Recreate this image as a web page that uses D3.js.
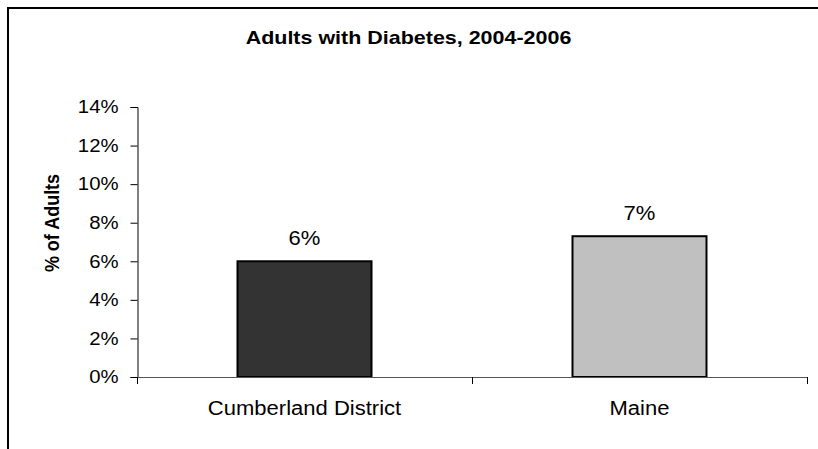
<!DOCTYPE html>
<html>
<head>
<meta charset="utf-8">
<script src="https://cdn.jsdelivr.net/npm/d3@7"></script>
<style>
  html, body { margin: 0; padding: 0; background: #fff; }
  svg { display: block; font-family: "Liberation Sans", Arial, sans-serif; }
</style>
</head>
<body>
<svg id="chart" width="818" height="449"></svg>
<script>
// Share of adults with diabetes, 2004-2006
const categories = ["Cumberland District", "Maine"];
const values = [6.0, 7.3];
const valueLabels = ["6%", "7%"];
const barColors = ["#333333", "#c0c0c0"];
const yTicks = [0, 2, 4, 6, 8, 10, 12, 14];

const svg = d3.select("#chart");
const margin = { left: 137, right: 11, top: 107, bottom: 72 };
const W = 818, H = 449;
const SX = 1.13; // horizontal widening applied to all text

// Outer frame: top and left edges
svg.append("path")
  .attr("d", `M8,449 V8 H818`)
  .attr("fill", "none")
  .attr("stroke", "#000")
  .attr("stroke-width", 2);

svg.append("text")
  .attr("transform", `translate(408.5,44) scale(${SX},1)`)
  .attr("text-anchor", "middle")
  .attr("font-weight", "bold")
  .attr("font-size", 19)
  .text("Adults with Diabetes, 2004-2006");

const x = d3.scaleBand()
  .domain(categories)
  .range([margin.left, W - margin.right])
  .paddingInner(0).paddingOuter(0);

const y = d3.scaleLinear()
  .domain([0, 14])
  .range([H - margin.bottom, margin.top]);

// Bars
const bw = x.bandwidth() * 0.4;
svg.selectAll("rect.bar")
  .data(values)
  .join("rect")
  .attr("class", "bar")
  .attr("x", (d, i) => x(categories[i]) + (x.bandwidth() - bw) / 2)
  .attr("y", d => y(d))
  .attr("width", bw)
  .attr("height", d => y(0) - y(d))
  .attr("fill", (d, i) => barColors[i])
  .attr("stroke", "#000")
  .attr("stroke-width", 2);

// Value labels
svg.selectAll("text.val")
  .data(values)
  .join("text")
  .attr("class", "val")
  .attr("transform", (d, i) =>
    `translate(${x(categories[i]) + x.bandwidth() / 2},${y(d) - 16}) scale(${SX},1)`)
  .attr("text-anchor", "middle")
  .attr("font-size", 19.5)
  .text((d, i) => valueLabels[i]);

// Y axis
const yAxis = d3.axisLeft(y)
  .tickValues(yTicks)
  .tickFormat(d => d + "%")
  .tickSize(7)
  .tickPadding(12);
const gy = svg.append("g")
  .attr("transform", `translate(${margin.left + 0.5},0)`)
  .call(yAxis);
gy.select(".domain").attr("stroke", "#000");
gy.selectAll(".tick line").attr("stroke", "#000");
gy.selectAll(".tick text")
  .attr("x", null)
  .attr("transform", `translate(-19,0) scale(${SX},1)`)
  .attr("font-size", 18)
  .attr("font-family", "Liberation Sans, Arial, sans-serif")
  .attr("fill", "#000");

// X axis: boundary ticks between categories
const xBounds = [margin.left, x("Maine"), W - margin.right];
const gx = svg.append("g");
gx.append("line")
  .attr("x1", margin.left).attr("x2", W - margin.right)
  .attr("y1", y(0) + 0.5).attr("y2", y(0) + 0.5)
  .attr("stroke", "#555");
gx.selectAll("line.bt")
  .data(xBounds)
  .join("line")
  .attr("class", "bt")
  .attr("x1", d => Math.round(d) + 0.5).attr("x2", d => Math.round(d) + 0.5)
  .attr("y1", y(0)).attr("y2", y(0) + 7)
  .attr("stroke", "#000");
gx.selectAll("text")
  .data(categories)
  .join("text")
  .attr("transform", d =>
    `translate(${x(d) + x.bandwidth() / 2},${y(0) + 38}) scale(${SX},1)`)
  .attr("text-anchor", "middle")
  .attr("font-size", 19.5)
  .text(d => d);

// Y axis title
svg.append("text")
  .attr("transform", `translate(58.5,223) scale(${SX},1) rotate(-90)`)
  .attr("text-anchor", "middle")
  .attr("font-weight", "bold")
  .attr("font-size", 18)
  .text("% of Adults");
</script>
</body>
</html>
